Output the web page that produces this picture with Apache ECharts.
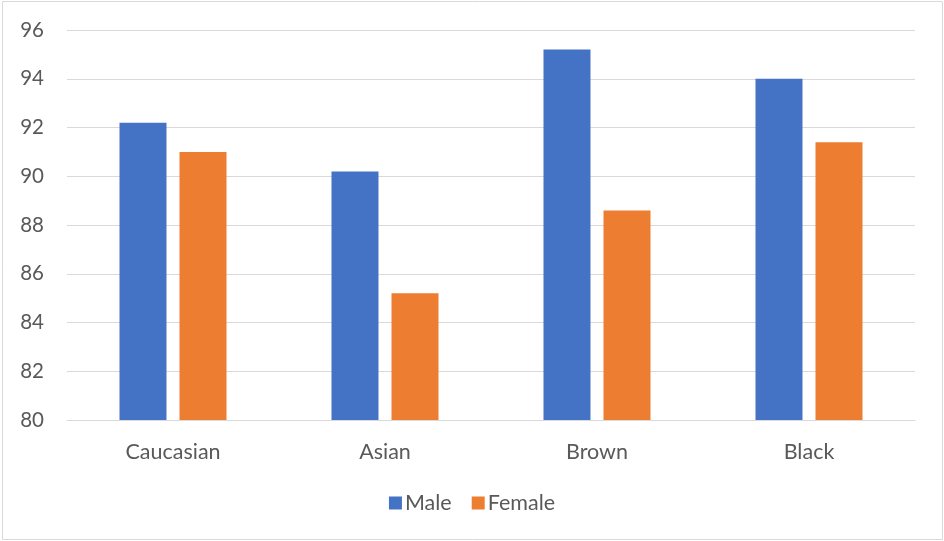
<!DOCTYPE html>
<html>
<head>
<meta charset="utf-8">
<script src="https://cdn.jsdelivr.net/npm/echarts@6/dist/echarts.min.js"></script>
<style>
  html, body { margin: 0; padding: 0; background: #fff; }
  #chart { width: 944px; height: 541px; }
</style>
</head>
<body>
<div id="chart"></div>
<script>
// Categories and values for each group
const categories = ['Caucasian', 'Asian', 'Brown', 'Black'];
const maleValues = [92.2, 90.2, 95.2, 94.0];
const femaleValues = [91.0, 85.2, 88.6, 91.4];
const yTicks = [80, 82, 84, 86, 88, 90, 92, 94, 96];

const textColor = '#595959';
const fontFamily = 'Lato, "Open Sans", sans-serif';

const chart = echarts.init(document.getElementById('chart'), null, { renderer: 'canvas' });

chart.setOption({
  backgroundColor: '#ffffff',
  animation: false,
  graphic: [{
    type: 'rect',
    shape: { x: 2.5, y: 1.5, width: 940, height: 538 },
    style: { fill: 'none', stroke: '#D9D9D9', lineWidth: 1 },
    silent: true
  }],
  grid: { left: 67, right: 29, top: 30, bottom: 121, containLabel: false },
  legend: {
    bottom: 22,
    left: 'center',
    itemWidth: 13,
    itemHeight: 13,
    itemGap: 20,
    icon: 'rect',
    textStyle: { color: textColor, fontSize: 21.5, fontFamily: fontFamily, padding: [0, 0, 0, -2] },
    data: ['Male', 'Female']
  },
  xAxis: {
    type: 'category',
    data: categories,
    axisLine: { show: true, lineStyle: { color: '#D9D9D9', width: 1 } },
    axisTick: { show: false },
    axisLabel: { color: textColor, fontSize: 21.5, fontFamily: fontFamily, margin: 21 }
  },
  yAxis: {
    type: 'value',
    min: yTicks[0],
    max: yTicks[yTicks.length - 1],
    interval: 2,
    axisLine: { show: false },
    axisTick: { show: false },
    splitLine: { lineStyle: { color: '#D9D9D9', width: 1 } },
    axisLabel: { color: textColor, fontSize: 20.5, fontFamily: fontFamily, margin: 23 }
  },
  series: [
    {
      name: 'Male',
      type: 'bar',
      data: maleValues,
      itemStyle: { color: '#4472C4' },
      barWidth: 47,
      barGap: '27.7%'
    },
    {
      name: 'Female',
      type: 'bar',
      data: femaleValues,
      itemStyle: { color: '#ED7D31' },
      barWidth: 47,
      barGap: '27.7%'
    }
  ]
});
</script>
</body>
</html>
